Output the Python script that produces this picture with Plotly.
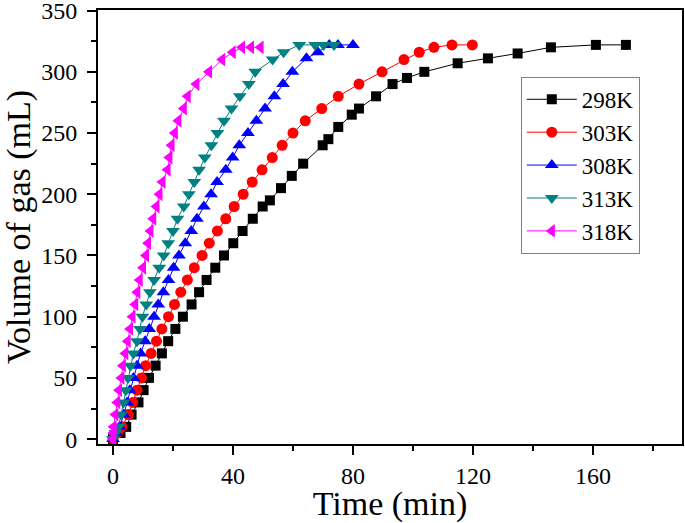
import plotly.graph_objects as go

# ---- data ----
t_298 = [0, 2.5, 4.4, 6.2, 8.5, 10.2, 12.0, 14.2, 16.3, 18.4, 20.8, 23.3, 26.2, 28.7, 31.2, 34.1, 37.0, 40.1,
         43.2, 46.6, 49.9, 52.3, 56.0, 59.6, 63.4, 69.9, 71.8, 75.1, 79.6, 82.0, 87.7, 93.2, 98.0, 103.8,
         114.9, 125.0, 134.9, 146.0, 161.0, 171.0]
v_298 = [0, 5, 10, 20, 30, 40, 50, 60, 70, 80, 90, 100, 110, 120, 130, 140, 150, 160, 170, 180, 190, 195,
         205, 215, 225, 240, 245, 255, 265, 270, 280, 290, 295, 300, 307, 311, 315, 320, 322, 322]

t_303 = [0, 1.5, 3.0, 5.1, 6.6, 8.0, 9.5, 10.9, 12.7, 14.5, 16.3, 18.5, 20.5, 22.6, 24.8, 27.1, 29.7, 32.1,
         34.8, 37.6, 40.4, 43.4, 46.4, 49.7, 53.1, 56.4, 60.0, 64.1, 69.6, 75.1, 82.0, 89.7, 97.0, 102.1,
         107.0, 113.0, 119.8]
v_303 = [0, 5, 10, 20, 30, 40, 50, 60, 70, 80, 90, 100, 110, 120, 130, 140, 150, 160, 170, 180, 190, 200,
         210, 220, 230, 240, 250, 260, 270, 280, 290, 300, 310, 316, 320, 322, 322]

t_308 = [0, 1.0, 2.2, 3.6, 4.7, 5.6, 6.8, 8.0, 9.2, 10.7, 12.1, 13.7, 15.1, 16.8, 18.5, 20.2, 22.0, 24.1,
         26.1, 28.0, 30.3, 32.7, 34.7, 37.6, 39.9, 42.1, 45.0, 47.8, 50.7, 53.8, 56.7, 59.8, 64.5, 68.3,
         72.1, 75.0, 80.0]
v_308 = [0, 5, 10, 20, 30, 40, 50, 60, 70, 80, 90, 100, 110, 120, 130, 140, 150, 160, 170, 180, 190, 200,
         210, 220, 230, 240, 250, 260, 270, 280, 290, 300, 311, 316, 322, 322, 322]

t_313 = [0, 0.8, 1.8, 2.7, 3.5, 4.3, 5.0, 5.8, 6.8, 8.0, 9.0, 9.8, 11.1, 12.3, 13.7, 15.4, 16.9, 18.4,
         20.0, 21.5, 23.6, 25.3, 27.1, 28.7, 30.6, 32.8, 34.8, 37.0, 39.5, 42.3, 45.3, 47.4, 53.2, 56.9,
         62.1, 67.4, 70.2, 73.7]
v_313 = [0, 5, 10, 20, 30, 40, 50, 60, 70, 80, 90, 100, 110, 120, 130, 140, 150, 160, 170, 180, 190, 200,
         210, 220, 230, 240, 250, 260, 270, 280, 290, 300, 310, 316, 322, 322, 322, 322]

t_318 = [0, 0.1, 0.2, 0.8, 1.4, 2.0, 2.8, 3.3, 4.1, 4.9, 5.7, 6.5, 7.4, 8.1, 8.9, 10.0, 11.0, 11.7, 12.5,
         13.4, 14.5, 15.5, 16.5, 18.2, 18.8, 19.5, 20.6, 21.8, 23.6, 24.9, 27.8, 32.0, 36.4, 39.9, 43.0,
         46.0, 49.2]
v_318 = [0, 5, 10, 20, 30, 40, 50, 60, 70, 80, 90, 100, 110, 120, 130, 140, 150, 160, 170, 180, 190, 200,
         210, 220, 230, 240, 250, 260, 270, 280, 290, 300, 310, 316, 320, 320, 320]

labels = ["298K", "303K", "308K", "313K", "318K"]
x_ticks = [0, 40, 80, 120, 160]
y_ticks = [0, 50, 100, 150, 200, 250, 300, 350]

series = [
    (labels[0], t_298, v_298, "#000000", "square", 10),
    (labels[1], t_303, v_303, "#FF0000", "circle", 11),
    (labels[2], t_308, v_308, "#0000FF", "triangle-up", 12),
    (labels[3], t_313, v_313, "#008080", "triangle-down", 12),
    (labels[4], t_318, v_318, "#FF00FF", "triangle-left", 12),
]

FONT = "Liberation Serif, serif"
TICKFONT = dict(family=FONT, size=24, color="black")

fig = go.Figure()
for name, t, v, col, sym, sz in series:
    fig.add_trace(go.Scatter(
        x=t, y=v, name=name, mode="lines+markers",
        line=dict(color=col, width=1),
        marker=dict(symbol=sym, size=sz, color=col, line=dict(width=0)),
    ))

axis_common = dict(
    showline=True, linecolor="black", linewidth=2, mirror=True,
    showgrid=False, zeroline=False, automargin=False,
    ticks="outside", ticklen=9, tickwidth=1.5, tickcolor="black",
    ticklabeloverflow="allow",
)

fig.update_xaxes(
    range=[-5, 189.7], tickvals=x_ticks, ticktext=[str(v) for v in x_ticks],
    minor=dict(dtick=20, tick0=0, ticks="outside", ticklen=5, tickwidth=1.5, tickcolor="black"),
    title=dict(text="Time (min)", font=dict(family=FONT, size=34, color="black"), standoff=0),
    **axis_common,
)
fig.update_yaxes(
    range=[-4, 350.5], tickvals=y_ticks, ticktext=[str(v) for v in y_ticks],
    minor=dict(dtick=25, tick0=0, ticks="outside", ticklen=5, tickwidth=1.5, tickcolor="black"),
    title=dict(text="Volume of gas (mL)", font=dict(family=FONT, size=34, color="black"), standoff=6),
    ticklabelstandoff=5,
    **axis_common,
)
fig.update_xaxes(tickfont=TICKFONT)
fig.update_yaxes(tickfont=TICKFONT)

fig.update_layout(
    width=685, height=523,
    margin=dict(l=98, r=3, t=10, b=79),
    paper_bgcolor="white", plot_bgcolor="white",
    font=dict(family=FONT, color="black"),
    legend=dict(
        x=0.724, y=0.846, xanchor="left", yanchor="top",
        bordercolor="#808080", borderwidth=1, bgcolor="white",
        font=dict(family=FONT, size=23, color="black"),
        itemwidth=50, tracegroupgap=0,
    ),
)

fig.write_html("out.html", config={"displayModeBar": False},
               post_script="document.body.style.margin='0';")
